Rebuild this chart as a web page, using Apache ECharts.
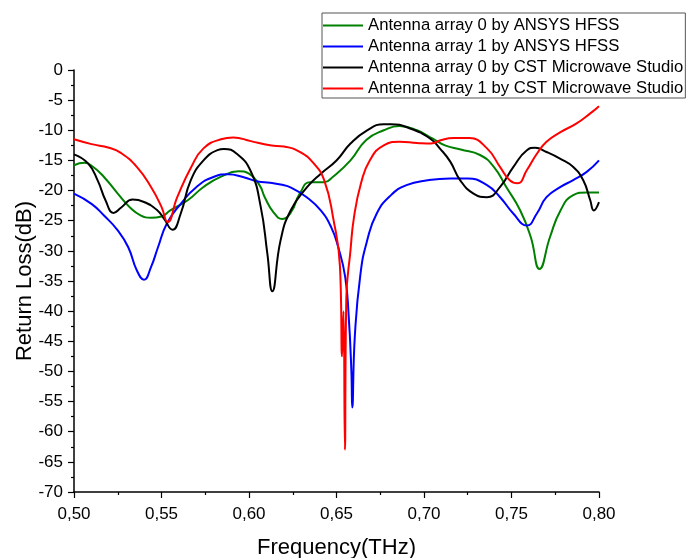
<!DOCTYPE html>
<html>
<head>
<meta charset="utf-8">
<script src="https://cdn.jsdelivr.net/npm/echarts@6/dist/echarts.min.js"></script>
<style>
html,body{margin:0;padding:0;background:#fff;}
#c{width:686px;height:558px;}
</style>
</head>
<body>
<div id="c"></div>
<script>
// Series names
var seriesNames = [
  'Antenna array 0 by ANSYS HFSS',
  'Antenna array 1 by ANSYS HFSS',
  'Antenna array 0 by CST Microwave Studio',
  'Antenna array 1 by CST Microwave Studio'
];
var xTicks = [0.50, 0.55, 0.60, 0.65, 0.70, 0.75, 0.80];

// HFSS array 0 (green)
var hfss0Freq = [0.500,0.506,0.511,0.517,0.525,0.532,0.538,0.544,0.550,0.555,0.565,0.574,0.584,0.594,0.600,0.606,0.609,0.614,0.619,0.624,0.629,0.635,0.643,0.648,0.658,0.667,0.677,0.686,0.696,0.705,0.712,0.721,0.732,0.740,0.747,0.755,0.761,0.766,0.772,0.778,0.785,0.793,0.800];
var hfss0Val  = [-15.8,-15.4,-16.1,-17.7,-20.5,-22.8,-24.1,-24.5,-24.3,-23.3,-21.6,-19.4,-17.7,-16.8,-17.2,-19.1,-21.1,-23.6,-24.7,-23.6,-20.5,-18.6,-18.6,-17.7,-15.0,-11.6,-10.0,-9.3,-10.0,-11.4,-12.5,-13.2,-14.1,-16.1,-19.4,-23.3,-27.7,-33.0,-27.7,-23.3,-20.8,-20.3,-20.3];

// HFSS array 1 (blue)
var hfss1Freq = [0.500,0.510,0.517,0.525,0.531,0.536,0.540,0.544,0.548,0.553,0.561,0.570,0.580,0.588,0.597,0.605,0.612,0.618,0.624,0.633,0.641,0.647,0.651,0.655,0.657,0.6585,0.659,0.6605,0.6637,0.6675,0.673,0.681,0.690,0.702,0.715,0.725,0.736,0.7435,0.751,0.7588,0.7645,0.770,0.778,0.785,0.793,0.800];
var hfss1Val  = [-20.5,-22.2,-24.1,-26.6,-29.4,-33.3,-34.8,-32.7,-29.4,-25.5,-22.2,-19.4,-17.7,-17.3,-17.8,-18.5,-18.7,-19.0,-19.5,-21.1,-23.3,-26.1,-29.4,-34.4,-41.0,-50.0,-56.0,-44.0,-33.8,-28.3,-23.8,-20.8,-19.1,-18.3,-18.0,-18.0,-19.1,-21.1,-23.8,-25.8,-23.8,-21.1,-19.4,-18.3,-16.9,-15.0];

// CST array 0 (black)
var cst0Freq = [0.500,0.508,0.5135,0.518,0.5226,0.527,0.5335,0.540,0.5477,0.5515,0.5563,0.561,0.5667,0.574,0.582,0.5857,0.593,0.601,0.6067,0.6105,0.6133,0.618,0.6238,0.6333,0.641,0.650,0.658,0.6675,0.677,0.681,0.692,0.7036,0.709,0.715,0.7207,0.7283,0.736,0.7435,0.751,0.7588,0.7635,0.770,0.7777,0.7853,0.791,0.795,0.797,0.800];
var cst0Val  = [-14.0,-15.5,-18.3,-21.6,-23.7,-22.8,-21.5,-21.9,-23.3,-24.7,-26.5,-23.8,-18.3,-15.0,-13.3,-13.1,-13.9,-16.8,-22.7,-30.5,-36.7,-28.3,-23.3,-19.4,-17.2,-15.0,-12.2,-10.0,-9.0,-9.0,-9.7,-11.4,-13.0,-15.2,-18.3,-20.5,-21.1,-19.4,-16.1,-13.3,-12.9,-13.6,-14.7,-16.1,-18.3,-21.6,-23.3,-21.9];

// CST array 1 (red)
var cst1Freq = [0.500,0.510,0.520,0.527,0.536,0.544,0.550,0.5535,0.559,0.567,0.574,0.584,0.591,0.601,0.612,0.620,0.629,0.637,0.643,0.648,0.652,0.6532,0.654,0.6548,0.6556,0.658,0.660,0.664,0.669,0.677,0.686,0.696,0.704,0.710,0.717,0.726,0.736,0.7435,0.749,0.7534,0.7588,0.7645,0.770,0.778,0.787,0.795,0.800];
var cst1Val  = [-11.5,-12.3,-12.9,-13.8,-16.1,-19.4,-22.7,-25.2,-21.1,-16.1,-13.0,-11.5,-11.2,-11.8,-12.5,-12.7,-13.6,-15.5,-18.3,-24.4,-32.7,-47.5,-40.0,-63.0,-38.0,-29.9,-24.4,-18.8,-15.0,-12.5,-11.9,-12.1,-12.2,-11.6,-11.3,-11.3,-13.0,-16.1,-18.3,-18.8,-16.6,-13.9,-11.9,-10.3,-8.9,-7.2,-6.0];

var colors = ['#008000', '#0000ff', '#000000', '#ff0000'];

function zip(a, b) { return a.map(function (v, i) { return [v, b[i]]; }); }
var allData = [zip(hfss0Freq, hfss0Val), zip(hfss1Freq, hfss1Val), zip(cst0Freq, cst0Val), zip(cst1Freq, cst1Val)];

var FONT = '"Liberation Sans", Arial, sans-serif';
var chart = echarts.init(document.getElementById('c'), null, {renderer: 'canvas'});
chart.setOption({
  animation: false,
  backgroundColor: '#ffffff',
  grid: {left: 74, right: 87, top: 70, bottom: 66, containLabel: false, outerBoundsMode: 'none'},
  legend: {
    orient: 'vertical',
    left: 322, top: 13,
    padding: [4, 2, 1, 1],
    itemGap: 4,
    icon: 'rect',
    itemWidth: 40, itemHeight: 2,
    borderColor: '#555555', borderWidth: 1,
    backgroundColor: '#ffffff',
    textStyle: {fontFamily: FONT, fontSize: 16.7, color: '#000', lineHeight: 17},
    data: seriesNames
  },
  xAxis: {
    type: 'value', min: 0.5, max: 0.8, interval: 0.05,
    name: 'Frequency(THz)', nameLocation: 'middle', nameGap: 45, nameMoveOverlap: false,
    nameTextStyle: {fontFamily: FONT, fontSize: 22, color: '#000'},
    axisLine: {show: true, onZero: false, lineStyle: {color: '#000', width: 1.5}},
    axisTick: {show: true, inside: false, length: 6, lineStyle: {color: '#000', width: 1.2}},
    minorTick: {show: true, splitNumber: 2, length: 3, lineStyle: {color: '#000', width: 1.2}},
    splitLine: {show: false},
    axisLabel: {fontFamily: FONT, fontSize: 17, color: '#000', margin: 14,
      formatter: function (v) { return v.toFixed(2).replace('.', ','); }}
  },
  yAxis: {
    type: 'value', min: -70, max: 0, interval: 5,
    name: 'Return Loss(dB)', nameLocation: 'middle', nameGap: 38, nameRotate: 90, nameMoveOverlap: false,
    nameTextStyle: {fontFamily: FONT, fontSize: 22, color: '#000'},
    axisLine: {show: true, onZero: false, lineStyle: {color: '#000', width: 1.5}},
    axisTick: {show: true, inside: false, length: 6, lineStyle: {color: '#000', width: 1.2}},
    minorTick: {show: true, splitNumber: 2, length: 3, lineStyle: {color: '#000', width: 1.2}},
    splitLine: {show: false},
    axisLabel: {fontFamily: FONT, fontSize: 17, color: '#000', margin: 11}
  },
  series: seriesNames.map(function (n, i) {
    return {
      name: n, type: 'line', data: allData[i],
      symbol: 'none', smooth: 0.5,
      clip: true,
      lineStyle: {color: colors[i], width: 2},
      itemStyle: {color: colors[i]}
    };
  })
});
</script>
</body>
</html>
